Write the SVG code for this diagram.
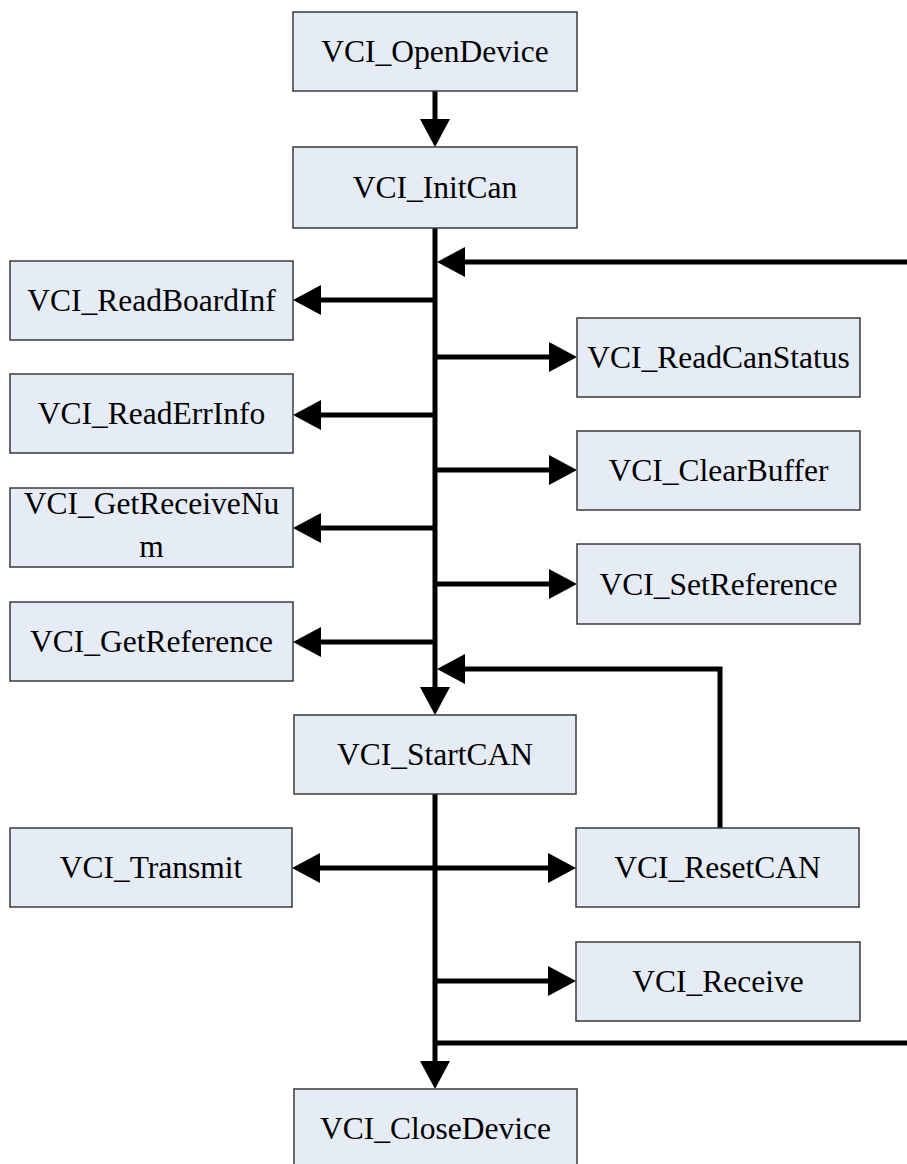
<svg xmlns="http://www.w3.org/2000/svg" width="907" height="1164" viewBox="0 0 907 1164">
<style>
.box{fill:#e6ecf6;stroke:#3a3a3a;stroke-width:1.5}
.lbl{font-family:"Liberation Serif","Times New Roman",serif;font-size:31.5px;fill:#000;text-anchor:middle}
.ln{fill:none;stroke:#000;stroke-width:5}
</style>
<defs>
<marker id="ah" markerUnits="userSpaceOnUse" markerWidth="28" markerHeight="30" viewBox="0 0 28 30" refX="0" refY="15" orient="auto-start-reverse">
<path d="M0,0 L28,15 L0,30 z" fill="#000"/>
</marker>
</defs>
<rect width="907" height="1164" fill="#fff"/>
<g id="connectors">
<line class="ln" x1="435" y1="91" x2="435" y2="119" marker-end="url(#ah)"/>
<line class="ln" x1="435" y1="228" x2="435" y2="687" marker-end="url(#ah)"/>
<line class="ln" x1="907" y1="262" x2="465" y2="262" marker-end="url(#ah)"/>
<line class="ln" x1="435" y1="300" x2="321" y2="300" marker-end="url(#ah)"/>
<line class="ln" x1="435" y1="415" x2="321" y2="415" marker-end="url(#ah)"/>
<line class="ln" x1="435" y1="528" x2="321" y2="528" marker-end="url(#ah)"/>
<line class="ln" x1="435" y1="642" x2="321" y2="642" marker-end="url(#ah)"/>
<line class="ln" x1="435" y1="357" x2="549" y2="357" marker-end="url(#ah)"/>
<line class="ln" x1="435" y1="470" x2="549" y2="470" marker-end="url(#ah)"/>
<line class="ln" x1="435" y1="584" x2="549" y2="584" marker-end="url(#ah)"/>
<polyline class="ln" points="720,828 720,669 465,669" marker-end="url(#ah)"/>
<line class="ln" x1="435" y1="794" x2="435" y2="1061" marker-end="url(#ah)"/>
<line class="ln" x1="320" y1="868" x2="548" y2="868" marker-start="url(#ah)" marker-end="url(#ah)"/>
<line class="ln" x1="435" y1="981" x2="548" y2="981" marker-end="url(#ah)"/>
<line class="ln" x1="433" y1="1043" x2="907" y2="1043"/>
</g>
<g id="n_open"><rect class="box" x="293" y="12" width="284" height="79"/><text class="lbl" x="435" y="62">VCI_OpenDevice</text></g>
<g id="n_init"><rect class="box" x="293" y="147" width="284" height="81"/><text class="lbl" x="435" y="198">VCI_InitCan</text></g>
<g id="n_readboard"><rect class="box" x="10" y="261" width="283" height="79"/><text class="lbl" x="151.5" y="311">VCI_ReadBoardInf</text></g>
<g id="n_readerr"><rect class="box" x="10" y="374" width="283" height="79"/><text class="lbl" x="151.5" y="424">VCI_ReadErrInfo</text></g>
<g id="n_getrecvnum"><rect class="box" x="10" y="488" width="283" height="79"/><text class="lbl" x="151.5" y="514">VCI_GetReceiveNu</text><text class="lbl" x="151.5" y="557">m</text></g>
<g id="n_getref"><rect class="box" x="10" y="602" width="283" height="79"/><text class="lbl" x="151.5" y="652">VCI_GetReference</text></g>
<g id="n_readcanstatus"><rect class="box" x="577" y="318" width="283" height="79"/><text class="lbl" x="718.5" y="368">VCI_ReadCanStatus</text></g>
<g id="n_clearbuffer"><rect class="box" x="577" y="431" width="283" height="79"/><text class="lbl" x="718.5" y="481">VCI_ClearBuffer</text></g>
<g id="n_setref"><rect class="box" x="577" y="544" width="283" height="80"/><text class="lbl" x="718.5" y="595">VCI_SetReference</text></g>
<g id="n_start"><rect class="box" x="294" y="715" width="282" height="79"/><text class="lbl" x="435" y="765">VCI_StartCAN</text></g>
<g id="n_transmit"><rect class="box" x="10" y="828" width="282" height="79"/><text class="lbl" x="151" y="878">VCI_Transmit</text></g>
<g id="n_reset"><rect class="box" x="576" y="828" width="283" height="79"/><text class="lbl" x="717.5" y="878">VCI_ResetCAN</text></g>
<g id="n_receive"><rect class="box" x="576" y="942" width="284" height="79"/><text class="lbl" x="718" y="992">VCI_Receive</text></g>
<g id="n_close"><rect class="box" x="294" y="1089" width="283" height="80"/><text class="lbl" x="435.5" y="1139">VCI_CloseDevice</text></g>
</svg>
